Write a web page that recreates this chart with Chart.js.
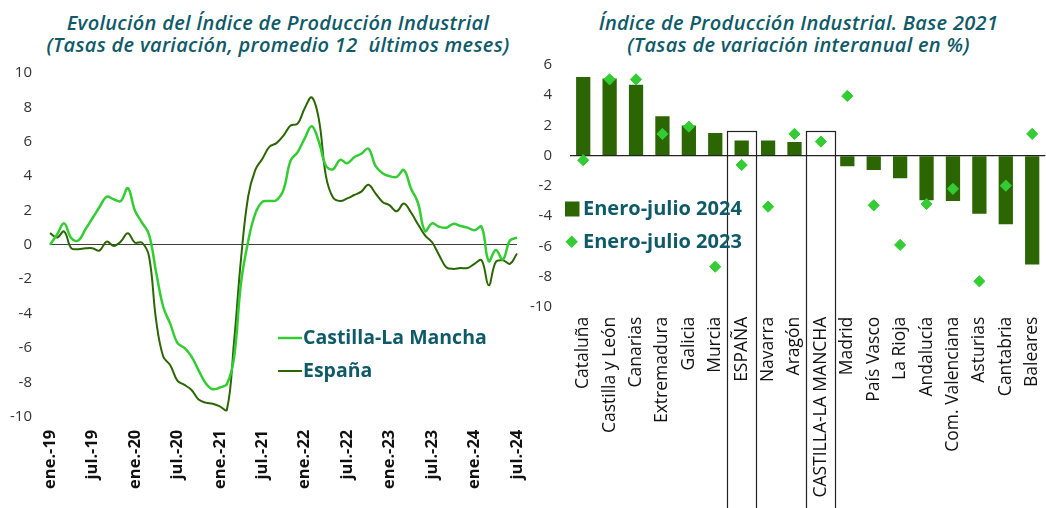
<!DOCTYPE html>
<html lang="es">
<head>
<meta charset="utf-8">
<title>Índice de Producción Industrial</title>
<script src="https://cdn.jsdelivr.net/npm/chart.js@4.4.1/dist/chart.umd.min.js"></script>
<style>
  html, body { margin: 0; padding: 0; background: #fff; }
  body { width: 1046px; height: 508px; position: relative; overflow: hidden; }
  .titulo {
    position: absolute; top: 12px; text-align: center;
    font-family: 'Open Sans', Roboto, sans-serif; font-style: italic; font-weight: 600;
    font-size: 20px; line-height: 22px; color: #0f5a69; letter-spacing: 0.3px;
    white-space: nowrap;
  }
  #tituloIzq { left: 18px; width: 520px; }
  #tituloDer { left: 540px; width: 517px; }
  #boxIzq { position: absolute; left: 0; top: 0; width: 530px; height: 508px; }
  #boxDer { position: absolute; left: 530px; top: 0; width: 522px; height: 508px; }
</style>
</head>
<body>
<div class="titulo" id="tituloIzq">Evolución del Índice de Producción Industrial<br>(Tasas de variación, promedio 12&nbsp; últimos meses)</div>
<div class="titulo" id="tituloDer">Índice de Producción Industrial. Base 2021<br>(Tasas de variación interanual en %)</div>
<div id="boxIzq"><canvas id="evolucionChart"></canvas></div>
<div id="boxDer"><canvas id="regionesChart"></canvas></div>

<script>
// --- Datos: evolución mensual (ene.-19 a jul.-24) ---
const meses = ['ene.', 'feb.', 'mar.', 'abr.', 'may.', 'jun.', 'jul.', 'ago.', 'sep.', 'oct.', 'nov.', 'dic.'];
const anios = ['19', '20', '21', '22', '23', '24'];

const castillaLaMancha = [
    0.0, 0.6, 1.25, 0.4, 0.25, 0.9, 1.55, 2.2, 2.8, 2.65, 2.55, 3.3,
    2.0, 1.3, 0.6, -1.6, -3.6, -4.6, -5.7, -6.0, -6.5, -7.3, -8.05, -8.4,
    -8.3, -8.1, -6.6, -2.2, 0.2, 1.8, 2.5, 2.55, 2.6, 3.2, 4.9, 5.4,
    6.2, 6.9, 6.0, 4.6, 4.4, 4.95, 4.75, 5.1, 5.3, 5.6, 4.6, 4.17,
    4.0, 3.95, 4.35, 3.3, 2.45, 0.8, 1.25, 1.05, 1.0, 1.22, 1.1, 1.0,
    0.85, 1.05, -0.95, -0.3, -0.85, 0.25, 0.42
];

const espana = [
    0.68, 0.43, 0.78, -0.19, -0.25, -0.2, -0.2, -0.33, 0.19, -0.06, 0.19, 0.68,
    0.13, 0.13, -0.68, -4.4, -6.5, -7.0, -7.9, -8.15, -8.45, -9.0, -9.18, -9.25,
    -9.4, -9.6, -5.7, -0.8, 2.8, 4.35, 5.0, 5.7, 5.92, 6.35, 6.95, 7.05,
    7.95, 8.58, 7.3, 4.0, 2.75, 2.55, 2.7, 2.9, 3.1, 3.5, 3.0, 2.5,
    2.3, 1.95, 2.4, 1.9, 1.2, 0.55, 0.15, -0.6, -1.3, -1.4, -1.35, -1.35,
    -1.1, -0.9, -2.35, -1.0, -0.9, -1.1, -0.5
];

// --- Datos: comunidades autónomas ---
const comunidades = [
    'Cataluña', 'Castilla y León', 'Canarias', 'Extremadura', 'Galicia', 'Murcia',
    'ESPAÑA', 'Navarra', 'Aragón', 'CASTILLA-LA MANCHA', 'Madrid', 'País Vasco',
    'La Rioja', 'Andalucía', 'Com. Valenciana', 'Asturias', 'Cantabria', 'Baleares'
];
const eneroJulio2024 = [5.2, 5.1, 4.7, 2.6, 2.0, 1.5, 1.0, 1.0, 0.9, 0, -0.7, -0.95, -1.5, -2.95, -3.0, -3.85, -4.55, -7.2];
const eneroJulio2023 = [-0.3, 5.05, 5.05, 1.44, 1.92, -7.35, -0.62, -3.38, 1.44, 0.93, 3.95, -3.29, -5.91, -3.2, -2.2, -8.32, -1.99, 1.44];
const destacadas = ['ESPAÑA', 'CASTILLA-LA MANCHA'];

const colorClaro = '#33cc33';
const colorOscuro = '#2b6603';
const colorTexto = '#0f5a69';
const fuente = "'Open Sans', Roboto, sans-serif";

Chart.defaults.font.family = fuente;
Chart.defaults.color = '#333333';
Chart.defaults.animation = false;

// quita el relleno lateral que Chart.js añade por las etiquetas giradas
function sinRellenoLateral(scale, alto) {
    scale.height = alto;
    scale.paddingLeft = 0;
    scale.paddingRight = 0;
}

document.addEventListener('DOMContentLoaded', function() {
    initEvolucionChart();
    initRegionesChart();
});

/**
 * Gráfico de líneas: evolución del IPI
 */
function initEvolucionChart() {
    const etiquetas = [];
    anios.forEach(a => meses.forEach(m => etiquetas.push(m + '-' + a)));
    etiquetas.length = castillaLaMancha.length;

    // leyenda dibujada dentro del área del gráfico
    const leyendaLineas = {
        id: 'leyendaLineas',
        afterDraw(chart) {
            const ctx = chart.ctx;
            const items = [
                { texto: 'Castilla-La Mancha', color: colorClaro, ancho: 2.5 },
                { texto: 'España', color: colorOscuro, ancho: 2 }
            ];
            ctx.save();
            ctx.font = "bold 19.5px " + fuente;
            ctx.textBaseline = 'middle';
            items.forEach((it, i) => {
                const y = 338 + i * 33;
                ctx.strokeStyle = it.color;
                ctx.lineWidth = it.ancho;
                ctx.beginPath();
                ctx.moveTo(278, y);
                ctx.lineTo(302, y);
                ctx.stroke();
                ctx.fillStyle = colorTexto;
                ctx.fillText(it.texto, 303, y);
            });
            ctx.restore();
        }
    };

    new Chart(document.getElementById('evolucionChart'), {
        type: 'line',
        data: {
            labels: etiquetas,
            datasets: [{
                label: 'Castilla-La Mancha',
                data: castillaLaMancha,
                borderColor: colorClaro,
                borderWidth: 2.5,
                pointRadius: 0,
                tension: 0.4
            }, {
                label: 'España',
                data: espana,
                borderColor: colorOscuro,
                borderWidth: 2,
                pointRadius: 0,
                tension: 0.4
            }]
        },
        options: {
            responsive: true,
            maintainAspectRatio: false,
            layout: { padding: { top: 73, left: 8, right: 13, bottom: 0 } },
            plugins: {
                legend: { display: false },
                tooltip: { enabled: false }
            },
            scales: {
                x: {
                    offset: false,
                    grid: { display: false, drawTicks: false },
                    border: { display: false },
                    afterFit: scale => sinRellenoLateral(scale, 91.3),
                    ticks: {
                        autoSkip: false,
                        maxRotation: 90,
                        minRotation: 90,
                        padding: 13,
                        color: '#111111',
                        font: { size: 16.5, weight: 'bold' },
                        callback: function(value, index) {
                            return index % 6 === 0 ? this.getLabelForValue(value) : '';
                        }
                    }
                },
                y: {
                    min: -10,
                    max: 10,
                    afterFit: function(scale) { scale.width = 42; },
                    border: { display: false },
                    grid: {
                        drawTicks: false,
                        color: ctx => ctx.tick && ctx.tick.value === 0 ? '#404040' : 'rgba(0,0,0,0)',
                        lineWidth: 1
                    },
                    ticks: {
                        stepSize: 2,
                        padding: 18,
                        color: '#333333',
                        font: { size: 15 }
                    }
                }
            }
        },
        plugins: [leyendaLineas]
    });
}

/**
 * Gráfico de barras: comunidades autónomas
 */
function initRegionesChart() {
    // recuadros alrededor de ESPAÑA y CASTILLA-LA MANCHA + leyenda
    const recuadros = {
        id: 'recuadros',
        afterDraw(chart) {
            const ctx = chart.ctx;
            const x = chart.scales.x;
            const y = chart.scales.y;
            const medio = (x.getPixelForValue(1) - x.getPixelForValue(0)) * 0.55;
            ctx.save();
            ctx.strokeStyle = '#222222';
            ctx.lineWidth = 1.2;
            destacadas.forEach(nombre => {
                const cx = x.getPixelForValue(comunidades.indexOf(nombre));
                const top = y.getPixelForValue(1.6);
                ctx.strokeRect(Math.round(cx - medio) + 0.5, Math.round(top) + 0.5,
                    Math.round(medio * 2), chart.height - top + 5);
            });

            // leyenda
            ctx.font = "bold 20px " + fuente;
            ctx.textBaseline = 'middle';
            ctx.fillStyle = colorOscuro;
            ctx.fillRect(35, 201.5, 14.5, 15);
            ctx.fillStyle = colorTexto;
            ctx.fillText('Enero-julio 2024', 53, 209);
            ctx.fillStyle = colorClaro;
            ctx.beginPath();
            ctx.moveTo(41.7, 235.5);
            ctx.lineTo(47.9, 241.7);
            ctx.lineTo(41.7, 247.9);
            ctx.lineTo(35.5, 241.7);
            ctx.closePath();
            ctx.fill();
            ctx.fillStyle = colorTexto;
            ctx.fillText('Enero-julio 2023', 53, 242);
            ctx.restore();
        }
    };

    new Chart(document.getElementById('regionesChart'), {
        type: 'bar',
        data: {
            labels: comunidades,
            datasets: [{
                label: 'Enero-julio 2023',
                type: 'line',
                data: eneroJulio2023,
                showLine: false,
                pointStyle: 'rectRot',
                pointRadius: 5.6,
                pointBackgroundColor: colorClaro,
                pointBorderColor: colorClaro,
                pointBorderWidth: 1,
                order: 1
            }, {
                label: 'Enero-julio 2024',
                data: eneroJulio2024,
                backgroundColor: colorOscuro,
                barPercentage: 0.54,
                categoryPercentage: 1.0,
                order: 2
            }]
        },
        options: {
            responsive: true,
            maintainAspectRatio: false,
            layout: { padding: { top: 65, left: 0, right: 2, bottom: 0 } },
            plugins: {
                legend: { display: false },
                tooltip: { enabled: false }
            },
            scales: {
                x: {
                    grid: { display: false, drawTicks: false },
                    border: { display: false },
                    afterFit: scale => sinRellenoLateral(scale, 201.3),
                    ticks: {
                        autoSkip: false,
                        maxRotation: 90,
                        minRotation: 90,
                        padding: 10,
                        color: '#111111',
                        font: { size: 17.5 }
                    }
                },
                y: {
                    min: -10,
                    max: 6,
                    afterFit: function(scale) { scale.width = 40; },
                    border: { display: false },
                    grid: {
                        drawTicks: false,
                        color: ctx => ctx.tick && ctx.tick.value === 0 ? '#222222' : 'rgba(0,0,0,0)',
                        lineWidth: 1.2
                    },
                    ticks: {
                        stepSize: 2,
                        padding: 18,
                        color: '#333333',
                        font: { size: 15 }
                    }
                }
            }
        },
        plugins: [recuadros]
    });
}
</script>
</body>
</html>
